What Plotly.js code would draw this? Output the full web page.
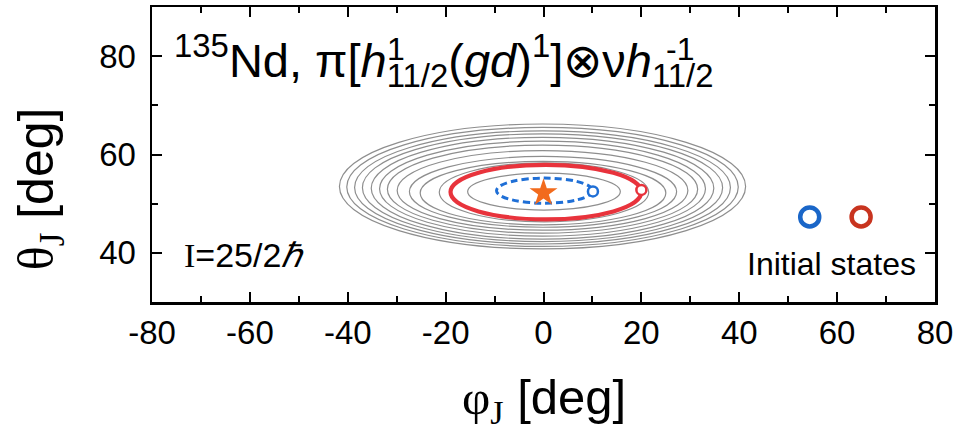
<!DOCTYPE html>
<html><head><meta charset="utf-8">
<script src="https://cdn.plot.ly/plotly-3.0.1.min.js"></script>
<style>html,body{margin:0;padding:0;background:#fff}</style>
</head><body><div id="chart" style="width:957px;height:432px"></div>
<script>
// Gray energy contours (extents in degrees)
const contourLeft   = [-41.7,-40.2,-38.6,-37.0,-35.2,-33.5,-31.9,-29.9,-27.4,-25.2,-21.3,-15.5];
const contourRight  = [ 41.3, 39.8, 38.2, 36.6, 34.8, 33.1, 31.5, 29.5, 27.2, 25.0, 21.5, 15.7];
const contourTop    = [66.2, 65.5, 64.8, 64.2, 63.5, 62.7, 61.9, 60.8, 59.6, 58.6, 58.3, 56.2];
const contourBottom = [40.8, 41.3, 41.8, 42.3, 42.8, 43.4, 44.0, 44.6, 45.2, 45.7, 46.3, 48.7];
// Trajectory orbits: red (solid) and blue (dashed)
const orbitLeft   = [-19.0, -9.6];
const orbitRight  = [ 20.0, 10.0];
const orbitBottom = [ 46.8, 50.1];
const orbitTop    = [ 57.9, 55.2];
// Orbit start points
const startPhi   = [20.0, 10.1];
const startTheta = [52.8, 52.5];
// Energy minimum (star)
const minPhi   = [0.0];
const minTheta = [52.2];
// "Initial states" legend circles (blue, red)
const initPhi   = [54.4, 64.9];
const initTheta = [47.3, 47.3];
// Tick labels
const xTickVals = [-80,-60,-40,-20,0,20,40,60,80];
const xTickText = ['-80','-60','-40','-20','0','20','40','60','80'];
const yTickVals = [40,60,80];
const yTickText = ['40','60','80'];

const SANS = 'Liberation Sans, Arial, sans-serif';
const RED = '#e8333c', BLUE = '#1f6fd6';

const shapes = [];
for (let i = 0; i < contourLeft.length; i++) {
  shapes.push({type:'circle', xref:'x', yref:'y', layer:'below',
    x0:contourLeft[i], x1:contourRight[i], y0:contourBottom[i], y1:contourTop[i],
    line:{color:'#8e8e8e', width:1.2}});
}
shapes.push({type:'circle', xref:'x', yref:'y', layer:'below',
  x0:orbitLeft[0], x1:orbitRight[0], y0:orbitBottom[0], y1:orbitTop[0],
  line:{color:RED, width:4.2}});
shapes.push({type:'circle', xref:'x', yref:'y', layer:'below',
  x0:orbitLeft[1], x1:orbitRight[1], y0:orbitBottom[1], y1:orbitTop[1],
  line:{color:BLUE, width:3, dash:'7px,4px'}});

const traces = [
  {x:[startPhi[0]], y:[startTheta[0]], mode:'markers', type:'scatter',
   marker:{symbol:'circle', size:10, color:'#fff', line:{color:RED, width:2.5}}},
  {x:[startPhi[1]], y:[startTheta[1]], mode:'markers', type:'scatter',
   marker:{symbol:'circle', size:10, color:'#fff', line:{color:BLUE, width:2.5}}},
  {x:minPhi, y:minTheta, mode:'markers', type:'scatter',
   marker:{symbol:'star', size:21, color:'#f26b1d', line:{width:0}}},
  {x:[initPhi[0]], y:[initTheta[0]], mode:'markers', type:'scatter',
   marker:{symbol:'circle', size:19, color:'rgba(0,0,0,0)', line:{color:'#1a66c8', width:4.5}}},
  {x:[initPhi[1]], y:[initTheta[1]], mode:'markers', type:'scatter',
   marker:{symbol:'circle', size:19, color:'rgba(0,0,0,0)', line:{color:'#c8341f', width:4.5}}}
];

const axisCommon = {showline:true, linecolor:'black', linewidth:2.5, mirror:'ticks',
  ticks:'inside', ticklen:10, tickwidth:2, tickcolor:'black', showgrid:false, zeroline:false,
  tickfont:{family:SANS, size:33, color:'black'}, fixedrange:true};

const layout = {
  width:957, height:432, margin:{l:152, r:22, t:7, b:130},
  paper_bgcolor:'white', plot_bgcolor:'white', showlegend:false,
  xaxis: Object.assign({}, axisCommon, {range:[-80,80], tickmode:'array', tickvals:xTickVals, ticktext:xTickText,
    minor:{dtick:10, tick0:0, ticks:'inside', ticklen:6, tickwidth:2, tickcolor:'black'}, ticklabelstandoff:0}),
  yaxis: Object.assign({}, axisCommon, {range:[30,90], tickmode:'array', tickvals:yTickVals, ticktext:yTickText,
    minor:{dtick:10, tick0:0, ticks:'inside', ticklen:6, tickwidth:2, tickcolor:'black'}, ticklabelstandoff:7}),
  shapes: shapes,
  annotations: [
    {xref:'paper', yref:'paper', x:0.025, y:0.82, xanchor:'left', yanchor:'middle', showarrow:false,
     text:"<sup>135</sup>Nd, π[<i>h</i><sub>11/2</sub>(<i>gd</i>)<sup>1</sup>]⊗ν<i>h</i><sub>11/2</sub>",
     font:{family:SANS, size:47, color:'black'}},
    {xref:'paper', yref:'paper', x:0.297, y:0.857, xanchor:'left', yanchor:'middle', showarrow:false,
     text:'1', font:{family:SANS, size:32, color:'black'}},
    {xref:'paper', yref:'paper', x:0.654, y:0.857, xanchor:'left', yanchor:'middle', showarrow:false,
     text:'-1', font:{family:SANS, size:32, color:'black'}},
    {xref:'paper', yref:'paper', x:0.038, y:0.16, xanchor:'left', yanchor:'middle', showarrow:false,
     text:"<span style='font-family:Liberation Serif'>I</span>=25/2<span style='font-family:Liberation Serif;font-style:italic'>ℏ</span>",
     font:{family:SANS, size:34, color:'black'}},
    {xref:'paper', yref:'paper', x:0.978, y:0.13, xanchor:'right', yanchor:'middle', showarrow:false,
     text:'Initial states', font:{family:SANS, size:32, color:'black'}},
    {xref:'paper', yref:'paper', x:0.5, y:-0.333, xanchor:'center', yanchor:'middle', showarrow:false,
     text:"<span style='font-family:Liberation Serif'>φ<sub>J</sub></span> [deg]",
     font:{family:SANS, size:49, color:'black'}},
    {xref:'paper', yref:'paper', x:-0.142, y:0.385, xanchor:'center', yanchor:'middle', showarrow:false, textangle:-90,
     text:"<span style='font-family:Liberation Serif'>θ<sub>J</sub></span> [deg]",
     font:{family:SANS, size:50, color:'black'}}
  ]
};

Plotly.newPlot('chart', traces, layout, {displayModeBar:false, staticPlot:true});
</script>
</body></html>
